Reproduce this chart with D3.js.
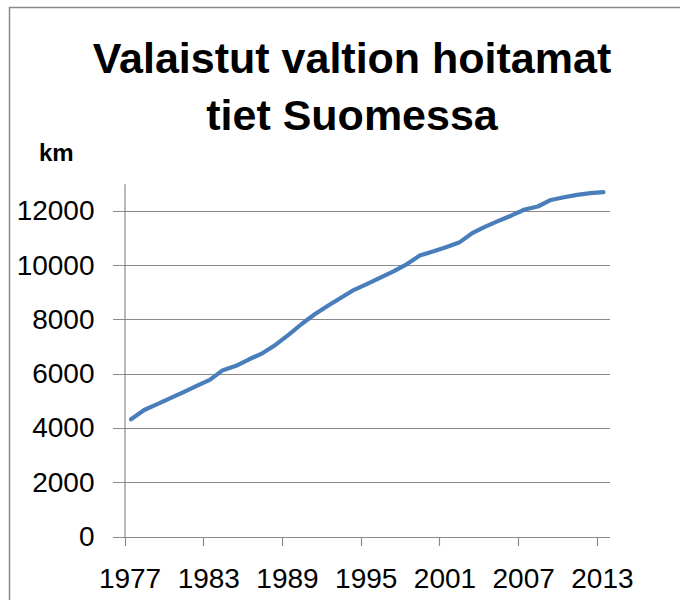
<!DOCTYPE html>
<html>
<head>
<meta charset="utf-8">
<script src="https://cdn.jsdelivr.net/npm/d3@7"></script>
<style>
  body { margin: 0; background: #fff; }
  svg { display: block; }
</style>
</head>
<body>
<div id="chart"></div>
<script>
// years 1977..2013 and lit state-maintained roads (km)
let years = [1977, 1978, 1979, 1980, 1981, 1982, 1983, 1984, 1985, 1986,
             1987, 1988, 1989, 1990, 1991, 1992, 1993, 1994, 1995, 1996,
             1997, 1998, 1999, 2000, 2001, 2002, 2003, 2004, 2005, 2006,
             2007, 2008, 2009, 2010, 2011, 2012, 2013];
let km = [4320, 4660, 4880, 5100, 5320, 5550, 5770, 6130, 6290, 6530,
          6750, 7060, 7430, 7830, 8190, 8500, 8800, 9090, 9310, 9540,
          9770, 10030, 10350, 10500, 10660, 10830, 11180, 11420, 11630, 11830,
          12050, 12160, 12400, 12500, 12590, 12650, 12690];
let yTicks = [0, 2000, 4000, 6000, 8000, 10000, 12000];
let xLabelYears = [1977, 1983, 1989, 1995, 2001, 2007, 2013];

let width = 680;
let height = 600;
let font = "'Liberation Sans', Arial, sans-serif";
let grey = "#8a8a8a";

let svg = d3.select("#chart")
    .append("svg")
    .attr("width", width)
    .attr("height", height);

// outer frame of the chart area (right and bottom edges fall outside)
svg.append("rect")
    .attr("x", 9.5)
    .attr("y", 7.5)
    .attr("width", 800)
    .attr("height", 800)
    .attr("fill", "none")
    .attr("stroke", grey)
    .attr("stroke-width", 1.5);

// title
svg.append("text")
    .attr("x", 352)
    .attr("y", 73)
    .attr("text-anchor", "middle")
    .attr("font-family", font)
    .attr("font-weight", "bold")
    .attr("font-size", 43)
    .attr("fill", "#000")
    .selectAll("tspan")
    .data(["Valaistut valtion hoitamat", "tiet Suomessa"])
    .join("tspan")
    .attr("x", 352)
    .attr("dy", (d, i) => i === 0 ? 0 : 57)
    .text(d => d);

// unit label
svg.append("text")
    .attr("x", 39)
    .attr("y", 161)
    .attr("font-family", font)
    .attr("font-weight", "bold")
    .attr("font-size", 24)
    .text("km");

//scales
let x = d3.scaleBand()
    .domain(years)
    .range([124.5, 610])
    .padding(0);

let y = d3.scaleLinear()
    .domain([0, 13000])
    .range([536.5, 183.7]);

//horizontal gridlines
svg.append("g")
    .selectAll("line")
    .data(yTicks)
    .join("line")
    .attr("x1", 113)
    .attr("x2", 610)
    .attr("y1", d => Math.round(y(d)) + 0.5)
    .attr("y2", d => Math.round(y(d)) + 0.5)
    .attr("stroke", grey)
    .attr("stroke-width", 1.2);

//y axis with labels
let yAxis = svg.append("g")
    .attr("transform", "translate(124.5,0)")
    .call(d3.axisLeft(y).tickValues(yTicks).tickSize(0).tickPadding(30).tickFormat(d3.format("d")));
yAxis.select(".domain")
    .attr("stroke", grey)
    .attr("stroke-width", 1.2);
yAxis.selectAll("text")
    .attr("font-family", font)
    .attr("font-size", 28)
    .attr("fill", "#000");

//x axis tick marks at the category boundaries, every six years
svg.append("g")
    .selectAll("line")
    .data(xLabelYears)
    .join("line")
    .attr("x1", d => Math.round(x(d)) + 0.5)
    .attr("x2", d => Math.round(x(d)) + 0.5)
    .attr("y1", 537)
    .attr("y2", 546)
    .attr("stroke", grey)
    .attr("stroke-width", 1.2);

//x labels centred on their category
svg.append("g")
    .selectAll("text")
    .data(xLabelYears)
    .join("text")
    .attr("x", d => x(d) + x.bandwidth() / 2 - 1)
    .attr("y", 588)
    .attr("text-anchor", "middle")
    .attr("font-family", font)
    .attr("font-size", 28)
    .text(d => d);

//data line
let line = d3.line()
    .x((d, i) => x(years[i]) + x.bandwidth() / 2)
    .y(d => y(d));

svg.append("path")
    .datum(km)
    .attr("d", line)
    .attr("fill", "none")
    .attr("stroke", "#4a7ebb")
    .attr("stroke-width", 4.2)
    .attr("stroke-linejoin", "round")
    .attr("stroke-linecap", "round");
</script>
</body>
</html>
